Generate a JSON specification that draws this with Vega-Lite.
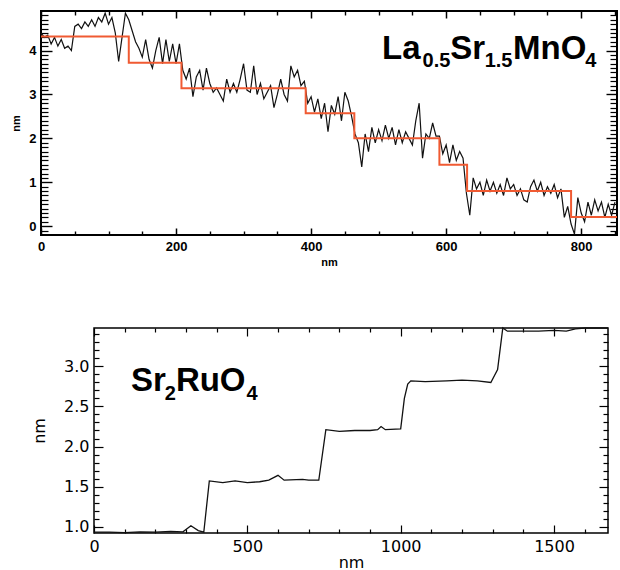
{
  "$schema": "https://vega.github.io/schema/vega-lite/v6.json",
  "padding": {"left": 9, "top": 9, "right": 0, "bottom": 0},
  "background": "white",
  "config": {"view": {"stroke": "black", "strokeWidth": 1.5}, "axis": {"ticks": true, "tickOpacity": 1, "domain": false, "grid": false, "tickColor": "#000000", "labelColor": "black", "titleColor": "black", "labelFlush": false, "labelOverlap": false, "zindex": 2}},
  "datasets": {
    "lsmo": [
      {"nm":0,"h":4.4},{"nm":5,"h":4.3},{"nm":10,"h":4.35},{"nm":15,"h":4.15},{"nm":20,"h":4.3},{"nm":25,"h":4.1},{"nm":30,"h":4.25},{"nm":35,"h":4.05},{"nm":40,"h":4.1},{"nm":45,"h":4.0},
      {"nm":50,"h":4.55},{"nm":55,"h":4.6},{"nm":60,"h":4.5},{"nm":65,"h":4.65},{"nm":70,"h":4.55},{"nm":75,"h":4.7},{"nm":80,"h":4.55},{"nm":85,"h":4.75},{"nm":90,"h":4.65},{"nm":95,"h":4.85},
      {"nm":100,"h":4.6},{"nm":105,"h":4.75},{"nm":110,"h":4.4},{"nm":115,"h":3.75},{"nm":120,"h":4.3},{"nm":125,"h":4.85},{"nm":130,"h":4.7},{"nm":135,"h":4.45},{"nm":140,"h":4.2},{"nm":145,"h":4.05},
      {"nm":150,"h":3.85},{"nm":155,"h":4.25},{"nm":160,"h":3.8},{"nm":165,"h":3.6},{"nm":170,"h":4.0},{"nm":175,"h":4.3},{"nm":180,"h":3.7},{"nm":185,"h":4.25},{"nm":190,"h":3.75},{"nm":195,"h":4.15},
      {"nm":200,"h":3.7},{"nm":205,"h":4.15},{"nm":210,"h":3.55},{"nm":215,"h":3.35},{"nm":220,"h":3.6},{"nm":225,"h":2.95},{"nm":230,"h":3.4},{"nm":235,"h":3.55},{"nm":240,"h":3.1},{"nm":245,"h":3.6},
      {"nm":250,"h":3.25},{"nm":255,"h":3.05},{"nm":260,"h":3.15},{"nm":265,"h":3.0},{"nm":270,"h":2.85},{"nm":275,"h":3.35},{"nm":280,"h":3.05},{"nm":285,"h":3.25},{"nm":290,"h":3.05},{"nm":295,"h":3.35},
      {"nm":300,"h":3.7},{"nm":305,"h":3.1},{"nm":310,"h":3.05},{"nm":315,"h":3.65},{"nm":320,"h":3.0},{"nm":325,"h":3.25},{"nm":330,"h":2.9},{"nm":335,"h":3.05},{"nm":340,"h":3.2},{"nm":345,"h":2.7},
      {"nm":350,"h":3.0},{"nm":355,"h":3.35},{"nm":360,"h":3.0},{"nm":365,"h":2.85},{"nm":370,"h":3.65},{"nm":375,"h":3.4},{"nm":380,"h":3.55},{"nm":385,"h":3.2},{"nm":390,"h":3.3},{"nm":395,"h":2.8},
      {"nm":400,"h":2.95},{"nm":405,"h":2.6},{"nm":410,"h":2.9},{"nm":415,"h":2.45},{"nm":420,"h":2.8},{"nm":425,"h":2.15},{"nm":430,"h":2.75},{"nm":435,"h":2.55},{"nm":440,"h":2.95},{"nm":445,"h":2.4},
      {"nm":450,"h":3.05},{"nm":455,"h":2.85},{"nm":460,"h":2.5},{"nm":465,"h":2.1},{"nm":470,"h":1.9},{"nm":475,"h":1.35},{"nm":480,"h":2.1},{"nm":485,"h":1.7},{"nm":490,"h":2.25},{"nm":495,"h":1.9},
      {"nm":500,"h":2.2},{"nm":505,"h":1.95},{"nm":510,"h":2.3},{"nm":515,"h":2.0},{"nm":520,"h":2.25},{"nm":525,"h":1.85},{"nm":530,"h":2.2},{"nm":535,"h":1.9},{"nm":540,"h":2.15},{"nm":545,"h":2.0},
      {"nm":550,"h":1.85},{"nm":555,"h":2.4},{"nm":560,"h":2.8},{"nm":565,"h":1.55},{"nm":570,"h":2.1},{"nm":575,"h":2.0},{"nm":580,"h":2.35},{"nm":585,"h":2.05},{"nm":590,"h":2.05},{"nm":595,"h":1.65},
      {"nm":600,"h":1.85},{"nm":605,"h":1.45},{"nm":610,"h":1.85},{"nm":615,"h":1.5},{"nm":620,"h":1.7},{"nm":625,"h":1.55},{"nm":630,"h":0.75},{"nm":635,"h":0.25},{"nm":640,"h":1.1},{"nm":645,"h":0.85},
      {"nm":650,"h":1.0},{"nm":655,"h":0.7},{"nm":660,"h":1.05},{"nm":665,"h":0.8},{"nm":670,"h":1.0},{"nm":675,"h":0.75},{"nm":680,"h":0.95},{"nm":685,"h":0.7},{"nm":690,"h":1.1},{"nm":695,"h":0.85},
      {"nm":700,"h":0.95},{"nm":705,"h":0.7},{"nm":710,"h":0.85},{"nm":715,"h":0.6},{"nm":720,"h":0.55},{"nm":725,"h":0.9},{"nm":730,"h":1.05},{"nm":735,"h":0.8},{"nm":740,"h":1.0},{"nm":745,"h":0.7},
      {"nm":750,"h":0.9},{"nm":755,"h":0.75},{"nm":760,"h":0.95},{"nm":765,"h":0.65},{"nm":770,"h":0.85},{"nm":775,"h":0.2},{"nm":780,"h":0.45},{"nm":785,"h":0.05},{"nm":790,"h":-0.18},{"nm":795,"h":0.65},
      {"nm":800,"h":0.3},{"nm":805,"h":0.1},{"nm":810,"h":0.55},{"nm":815,"h":0.25},{"nm":820,"h":0.6},{"nm":825,"h":0.35},{"nm":830,"h":0.55},{"nm":835,"h":0.2},{"nm":840,"h":0.5},{"nm":845,"h":0.25},{"nm":850,"h":0.55}
    ],
    "lsmofit": [
      {"nm":0,"h":4.32},{"nm":130,"h":3.72},{"nm":208,"h":3.14},{"nm":392,"h":2.57},{"nm":464,"h":2.0},{"nm":590,"h":1.4},{"nm":631,"h":0.8},{"nm":785,"h":0.21},{"nm":853,"h":0.21}
    ],
    "lsmotext": [
      {"t":"La","nm":505,"h":3.8,"kind":"main"},{"t":"0.5","nm":565,"h":3.63,"kind":"sub"},
      {"t":"Sr","nm":606,"h":3.8,"kind":"main"},{"t":"1.5","nm":657,"h":3.63,"kind":"sub"},
      {"t":"MnO","nm":699,"h":3.8,"kind":"main"},{"t":"4","nm":806,"h":3.63,"kind":"sub"}
    ],
    "sro": [
      {"nm":0,"h":0.93},{"nm":50,"h":0.93},{"nm":100,"h":0.925},{"nm":150,"h":0.935},{"nm":200,"h":0.93},{"nm":250,"h":0.94},{"nm":290,"h":0.935},{"nm":316,"h":1.01},{"nm":340,"h":0.95},{"nm":358,"h":0.93},
      {"nm":376,"h":1.57},{"nm":420,"h":1.55},{"nm":460,"h":1.57},{"nm":500,"h":1.55},{"nm":540,"h":1.56},{"nm":570,"h":1.58},{"nm":600,"h":1.64},{"nm":620,"h":1.58},{"nm":680,"h":1.59},{"nm":700,"h":1.58},{"nm":733,"h":1.58},
      {"nm":756,"h":2.21},{"nm":800,"h":2.19},{"nm":850,"h":2.2},{"nm":900,"h":2.2},{"nm":925,"h":2.21},{"nm":936,"h":2.25},{"nm":950,"h":2.21},{"nm":1000,"h":2.22},{"nm":1012,"h":2.6},{"nm":1023,"h":2.78},{"nm":1033,"h":2.82},
      {"nm":1080,"h":2.81},{"nm":1150,"h":2.82},{"nm":1200,"h":2.83},{"nm":1250,"h":2.82},{"nm":1294,"h":2.8},{"nm":1316,"h":2.96},{"nm":1333,"h":3.48},{"nm":1348,"h":3.44},{"nm":1400,"h":3.44},{"nm":1450,"h":3.44},
      {"nm":1500,"h":3.45},{"nm":1540,"h":3.44},{"nm":1570,"h":3.47},{"nm":1600,"h":3.48},{"nm":1676,"h":3.48}
    ],
    "srotext": [
      {"t":"Sr","nm":121,"h":2.69,"kind":"main"},{"t":"2","nm":231,"h":2.58,"kind":"sub"},
      {"t":"RuO","nm":267,"h":2.69,"kind":"main"},{"t":"4","nm":497,"h":2.58,"kind":"sub"}
    ]
  },
  "bounds": "flush",
  "spacing": 93,
  "vconcat": [
    {
      "width": 576,
      "height": 224,
      "view": {"stroke": "black", "strokeWidth": 2},
      "resolve": {"axis": {"x": "independent", "y": "independent"}},
      "layer": [
        {
          "data": {"name": "lsmo"},
          "mark": {"type": "line", "color": "#111111", "strokeWidth": 1.2},
          "encoding": {
            "x": {"field": "nm", "type": "quantitative", "scale": {"domain": [0, 853], "nice": false, "zero": false},
              "axis": {"orient": "bottom", "values": [0,200,400,600,800], "format": "d", "ticks": true, "tickColor": "black", "tickOpacity": 1,
                "offset": -7, "tickSize": 7, "tickWidth": 1.5,
                "labelPadding": 5, "labelFont": "Liberation Sans", "labelFontWeight": "bold", "labelFontSize": 13,
                "title": "nm", "titleFont": "Liberation Sans", "titleFontWeight": "bold", "titleFontSize": 11, "titlePadding": 3}},
            "y": {"field": "h", "type": "quantitative", "scale": {"domain": [-0.2, 4.9], "nice": false, "zero": false},
              "axis": {"orient": "left", "values": [0,1,2,3,4], "format": "d", "ticks": true, "tickColor": "black", "tickOpacity": 1,
                "offset": -11, "tickSize": 11, "tickWidth": 1.4,
                "labelPadding": 5, "labelFont": "Liberation Sans", "labelFontWeight": "bold", "labelFontSize": 13,
                "title": "nm", "titleFont": "Liberation Sans", "titleFontWeight": "bold", "titleFontSize": 11, "titlePadding": 7}}
          }
        },
        {
          "data": {"name": "lsmofit"},
          "mark": {"type": "line", "interpolate": "step-after", "color": "#f05a32", "strokeWidth": 2},
          "encoding": {
            "x": {"field": "nm", "type": "quantitative",
              "axis": {"orient": "top", "values": [0,200,400,600,800], "labels": false, "title": null, "ticks": true, "tickColor": "black", "tickOpacity": 1,
                "offset": -7, "tickSize": 7, "tickWidth": 1.5}},
            "y": {"field": "h", "type": "quantitative",
              "axis": {"orient": "right", "values": [0,1,2,3,4], "labels": false, "title": null, "ticks": true, "tickColor": "black", "tickOpacity": 1,
                "offset": -11, "tickSize": 11, "tickWidth": 1.4}}
          }
        },
        {
          "data": {"name": "lsmotext"},
          "transform": [{"filter": "datum.kind === 'main'"}],
          "mark": {"type": "text", "align": "left", "baseline": "alphabetic", "font": "Liberation Sans", "fontWeight": "bold", "fontSize": 33, "color": "black"},
          "encoding": {
            "x": {"field": "nm", "type": "quantitative",
              "axis": {"orient": "bottom", "values": [50,100,150,250,300,350,450,500,550,650,700,750,850], "labels": false, "title": null, "ticks": true, "tickColor": "black", "tickOpacity": 1,
                "offset": -4, "tickSize": 4, "tickWidth": 1.4}},
            "y": {"field": "h", "type": "quantitative",
              "axis": {"orient": "left", "values": [-0.1,0.1,0.2,0.3,0.4,0.5,0.6,0.7,0.8,0.9,1.1,1.2,1.3,1.4,1.5,1.6,1.7,1.8,1.9,2.1,2.2,2.3,2.4,2.5,2.6,2.7,2.8,2.9,3.1,3.2,3.3,3.4,3.5,3.6,3.7,3.8,3.9,4.1,4.2,4.3,4.4,4.5,4.6,4.7,4.8], "labels": false, "title": null, "ticks": true, "tickColor": "black", "tickOpacity": 1,
                "offset": -7, "tickSize": 7, "tickWidth": 1.2}},
            "text": {"field": "t"}
          }
        },
        {
          "data": {"name": "lsmotext"},
          "transform": [{"filter": "datum.kind === 'sub'"}],
          "mark": {"type": "text", "align": "left", "baseline": "alphabetic", "font": "Liberation Sans", "fontWeight": "bold", "fontSize": 20, "color": "black"},
          "encoding": {
            "x": {"field": "nm", "type": "quantitative",
              "axis": {"orient": "top", "values": [50,100,150,250,300,350,450,500,550,650,700,750,850], "labels": false, "title": null, "ticks": true, "tickColor": "black", "tickOpacity": 1,
                "offset": -4, "tickSize": 4, "tickWidth": 1.4}},
            "y": {"field": "h", "type": "quantitative",
              "axis": {"orient": "right", "values": [-0.1,0.1,0.2,0.3,0.4,0.5,0.6,0.7,0.8,0.9,1.1,1.2,1.3,1.4,1.5,1.6,1.7,1.8,1.9,2.1,2.2,2.3,2.4,2.5,2.6,2.7,2.8,2.9,3.1,3.2,3.3,3.4,3.5,3.6,3.7,3.8,3.9,4.1,4.2,4.3,4.4,4.5,4.6,4.7,4.8], "labels": false, "title": null, "ticks": true, "tickColor": "black", "tickOpacity": 1,
                "offset": -7, "tickSize": 7, "tickWidth": 1.2}},
            "text": {"field": "t"}
          }
        }
      ]
    },
    {
      "bounds": "flush",
      "spacing": 0,
      "hconcat": [
        {
          "width": 53,
          "height": 205,
          "view": {"stroke": null},
          "data": {"values": [{"a": 1}]},
          "mark": {"type": "point", "opacity": 0}
        },
        {
          "width": 514,
          "height": 205,
          "view": {"stroke": "black", "strokeWidth": 1.5},
          "resolve": {"axis": {"x": "independent", "y": "independent"}},
          "layer": [
            {
              "data": {"name": "sro"},
              "mark": {"type": "line", "color": "#111111", "strokeWidth": 1.3},
              "encoding": {
                "x": {"field": "nm", "type": "quantitative", "scale": {"domain": [0, 1676], "nice": false, "zero": false},
                  "axis": {"orient": "bottom", "values": [0,500,1000,1500], "format": "d", "ticks": true, "tickColor": "black", "tickOpacity": 1,
                    "offset": -8, "tickSize": 8, "tickWidth": 1.2,
                    "labelPadding": 5, "labelFont": "DejaVu Sans", "labelFontSize": 16,
                    "title": "nm", "titleFont": "DejaVu Sans", "titleFontSize": 16, "titleFontWeight": "normal", "titlePadding": 0}},
                "y": {"field": "h", "type": "quantitative", "scale": {"domain": [0.92, 3.48], "nice": false, "zero": false},
                  "axis": {"orient": "left", "values": [1,1.5,2,2.5,3], "format": ".1f", "ticks": true, "tickColor": "black", "tickOpacity": 1,
                    "offset": -9, "tickSize": 9, "tickWidth": 1.2,
                    "labelPadding": 5, "labelFont": "DejaVu Sans", "labelFontSize": 16,
                    "title": "nm", "titleFont": "DejaVu Sans", "titleFontSize": 16, "titleFontWeight": "normal", "titlePadding": 16}}
              }
            },
            {
              "data": {"name": "sro"},
              "mark": {"type": "line", "opacity": 0},
              "encoding": {
                "x": {"field": "nm", "type": "quantitative",
                  "axis": {"orient": "top", "values": [0,500,1000,1500], "labels": false, "title": null, "ticks": true, "tickColor": "black", "tickOpacity": 1,
                    "offset": -8, "tickSize": 8, "tickWidth": 1.2}},
                "y": {"field": "h", "type": "quantitative",
                  "axis": {"orient": "right", "values": [1,1.5,2,2.5,3], "labels": false, "title": null, "ticks": true, "tickColor": "black", "tickOpacity": 1,
                    "offset": -9, "tickSize": 9, "tickWidth": 1.2}}
              }
            },
            {
              "data": {"name": "srotext"},
              "transform": [{"filter": "datum.kind === 'main'"}],
              "mark": {"type": "text", "align": "left", "baseline": "alphabetic", "font": "Liberation Sans", "fontWeight": "bold", "fontSize": 33, "color": "black"},
              "encoding": {
                "x": {"field": "nm", "type": "quantitative",
                  "axis": {"orient": "bottom", "values": [100,200,300,400,600,700,800,900,1100,1200,1300,1400,1600], "labels": false, "title": null, "ticks": true, "tickColor": "black", "tickOpacity": 1,
                    "offset": -4, "tickSize": 4, "tickWidth": 1.2}},
                "y": {"field": "h", "type": "quantitative",
                  "axis": {"orient": "left", "values": [1.1,1.2,1.3,1.4,1.6,1.7,1.8,1.9,2.1,2.2,2.3,2.4,2.6,2.7,2.8,2.9,3.1,3.2,3.3,3.4], "labels": false, "title": null, "ticks": true, "tickColor": "black", "tickOpacity": 1,
                    "offset": -5, "tickSize": 5, "tickWidth": 1.2}},
                "text": {"field": "t"}
              }
            },
            {
              "data": {"name": "srotext"},
              "transform": [{"filter": "datum.kind === 'sub'"}],
              "mark": {"type": "text", "align": "left", "baseline": "alphabetic", "font": "Liberation Sans", "fontWeight": "bold", "fontSize": 20, "color": "black"},
              "encoding": {
                "x": {"field": "nm", "type": "quantitative",
                  "axis": {"orient": "top", "values": [100,200,300,400,600,700,800,900,1100,1200,1300,1400,1600], "labels": false, "title": null, "ticks": true, "tickColor": "black", "tickOpacity": 1,
                    "offset": -4, "tickSize": 4, "tickWidth": 1.2}},
                "y": {"field": "h", "type": "quantitative",
                  "axis": {"orient": "right", "values": [1.1,1.2,1.3,1.4,1.6,1.7,1.8,1.9,2.1,2.2,2.3,2.4,2.6,2.7,2.8,2.9,3.1,3.2,3.3,3.4], "labels": false, "title": null, "ticks": true, "tickColor": "black", "tickOpacity": 1,
                    "offset": -5, "tickSize": 5, "tickWidth": 1.2}},
                "text": {"field": "t"}
              }
            }
          ]
        }
      ]
    }
  ]
}
